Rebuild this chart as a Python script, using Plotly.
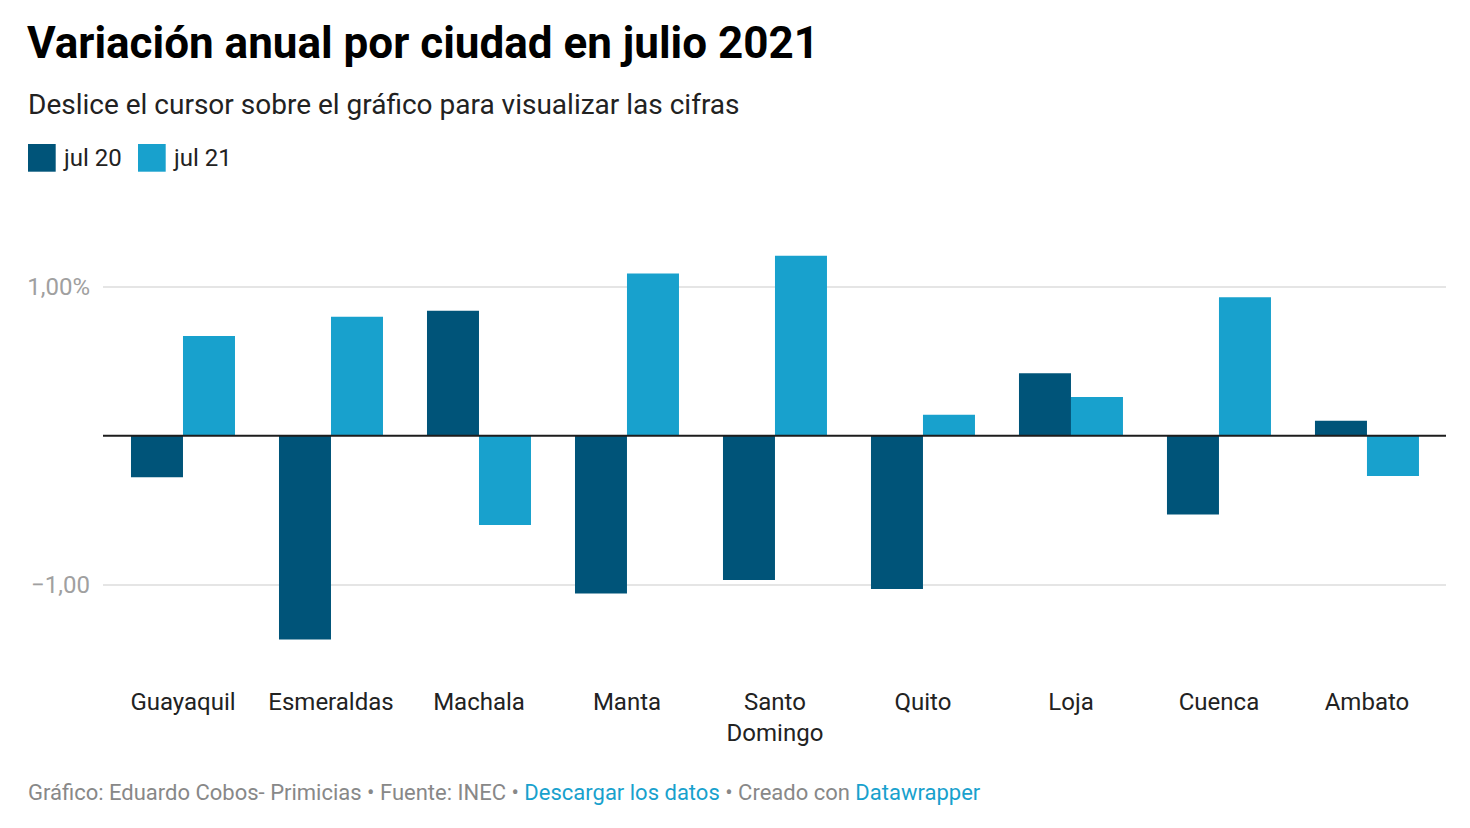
import plotly.graph_objects as go

# ---- data ----
cities = ["Guayaquil", "Esmeraldas", "Machala", "Manta", "Santo Domingo",
          "Quito", "Loja", "Cuenca", "Ambato"]
city_labels = ["Guayaquil", "Esmeraldas", "Machala", "Manta", "Santo<br>Domingo",
               "Quito", "Loja", "Cuenca", "Ambato"]
jul20 = [-0.28, -1.37, 0.84, -1.06, -0.97, -1.03, 0.42, -0.53, 0.10]
jul21 = [0.67, 0.80, -0.60, 1.09, 1.21, 0.14, 0.26, 0.93, -0.27]
series_names = ["jul 20", "jul 21"]
y_tickvals = [-1, 1]
y_ticktext = ["\u22121,00", "1,00%"]

title = "Variación anual por ciudad en julio 2021"
subtitle = "Deslice el cursor sobre el gráfico para visualizar las cifras"

C_DARK = "#005479"
C_LIGHT = "#18a1cd"
FONT = "Roboto"

OFF = 8  # page body margin
W, H = 1470 - OFF, 828 - OFF
PL, PR, PT, PB = 103 - OFF, 1446 - OFF, 230 - OFF, 665 - OFF  # plot area in pixels


def px_x(px):
    return (px - OFF - PL) / (PR - PL)


def px_y(py):
    return (PB - (py - OFF)) / (PB - PT)


fig = go.Figure()
fig.add_trace(go.Bar(x=cities, y=jul20, name=series_names[0],
                     marker=dict(color=C_DARK, line=dict(width=0))))
fig.add_trace(go.Bar(x=cities, y=jul21, name=series_names[1],
                     marker=dict(color=C_LIGHT, line=dict(width=0))))

TX = 26  # left of text boxes (text itself starts ~2px further right)
annotations = [
    dict(text=title, x=px_x(TX - 1), y=px_y(43), xref="paper", yref="paper",
         xanchor="left", yanchor="middle", showarrow=False,
         font=dict(family=FONT, size=44, color="#000000", weight=700)),
    dict(text=subtitle, x=px_x(TX), y=px_y(104), xref="paper", yref="paper",
         xanchor="left", yanchor="middle", showarrow=False,
         font=dict(family=FONT, size=28, color="#222222")),
    dict(text=series_names[0], x=px_x(61), y=px_y(158), xref="paper", yref="paper",
         xanchor="left", yanchor="middle", showarrow=False,
         font=dict(family=FONT, size=24, color="#222222")),
    dict(text=series_names[1], x=px_x(171), y=px_y(158), xref="paper", yref="paper",
         xanchor="left", yanchor="middle", showarrow=False,
         font=dict(family=FONT, size=24, color="#222222")),
    dict(text=("Gráfico: Eduardo Cobos- Primicias • Fuente: INEC • "
               f"<span style='color:{C_LIGHT}'>Descargar los datos</span>"
               " • Creado con "
               f"<span style='color:{C_LIGHT}'>Datawrapper</span>"),
         x=px_x(TX), y=px_y(792), xref="paper", yref="paper",
         xanchor="left", yanchor="middle", showarrow=False,
         font=dict(family=FONT, size=22, color="#888888")),
]

shapes = [
    dict(type="rect", xref="paper", yref="paper",
         x0=px_x(28), x1=px_x(55.7), y0=px_y(144), y1=px_y(171.7),
         fillcolor=C_DARK, line=dict(width=0)),
    dict(type="rect", xref="paper", yref="paper",
         x0=px_x(138), x1=px_x(165.7), y0=px_y(144), y1=px_y(171.7),
         fillcolor=C_LIGHT, line=dict(width=0)),
    dict(type="line", xref="paper", yref="y", x0=0, x1=1, y0=0, y1=0,
         line=dict(color="#1d1d1d", width=2), layer="above"),
]

y_top = (435.7 - OFF - PT) / 148.8
y_bot = -(PB - (435.7 - OFF)) / 148.8

fig.update_layout(
    width=W, height=H,
    margin=dict(l=PL, r=W - PR, t=PT, b=H - PB, autoexpand=False),
    paper_bgcolor="white", plot_bgcolor="white",
    barmode="group", bargap=0.2973, bargroupgap=0,
    showlegend=False,
    font=dict(family=FONT),
    annotations=annotations,
    shapes=shapes,
    xaxis=dict(
        type="category", range=[-0.5405, 8.534],
        tickvals=cities, ticktext=city_labels,
        showgrid=False, zeroline=False, showline=False, ticks="",
        tickfont=dict(family=FONT, size=24, color="#222222"),
        ticklabelstandoff=20,
    ),
    yaxis=dict(
        range=[y_bot, y_top],
        tickvals=y_tickvals, ticktext=y_ticktext,
        showgrid=True, gridcolor="#e5e5e5", gridwidth=1.5,
        zeroline=False, showline=False, ticks="",
        tickfont=dict(family=FONT, size=24, color="#a0a0a0"),
        ticklabelstandoff=12,
    ),
)

fig.write_html("out.html")
